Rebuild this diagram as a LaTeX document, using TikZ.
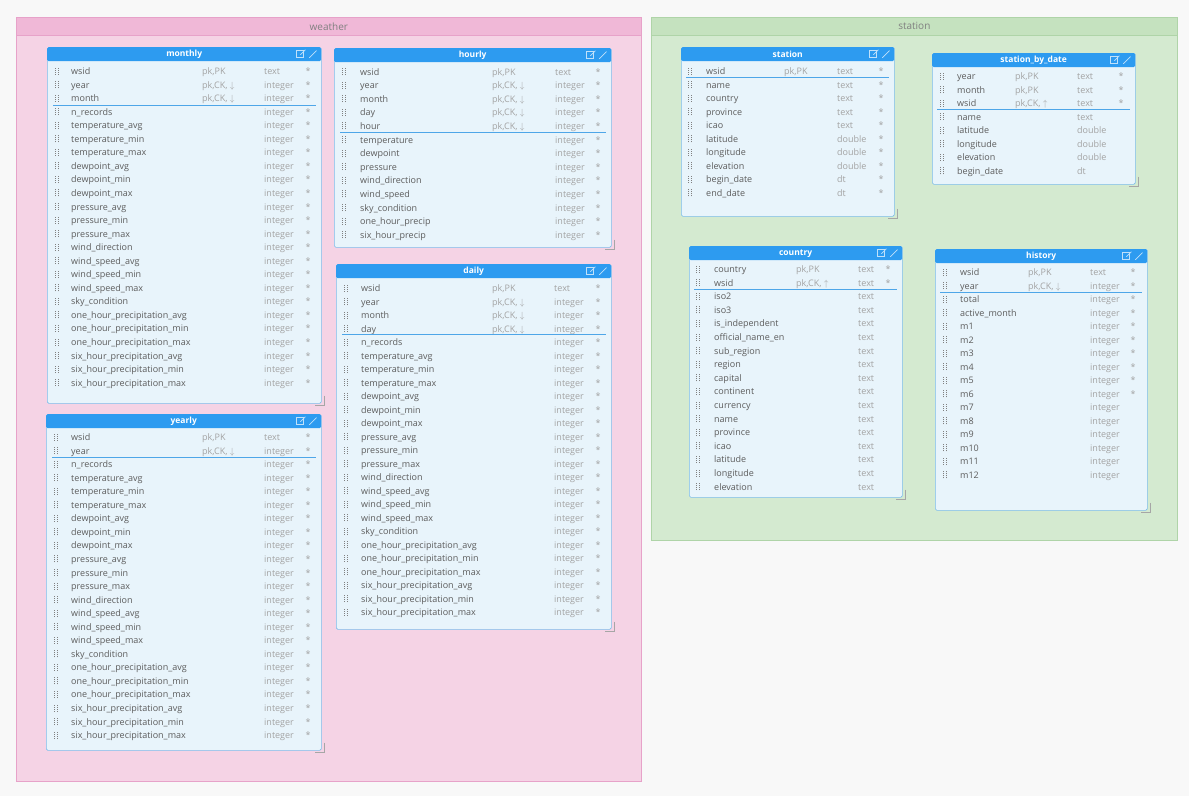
\documentclass[tikz,border=0pt]{standalone}
\usepackage{fontspec}
\setmainfont{Open Sans}
\usetikzlibrary{positioning}

\definecolor{canvasbg}{HTML}{F8F8F8}
\definecolor{wbody}{HTML}{F5D3E5}
\definecolor{whead}{HTML}{F0B8D7}
\definecolor{wline}{HTML}{E7A2C9}
\definecolor{sbody}{HTML}{D4EAD0}
\definecolor{shead}{HTML}{C5E2BF}
\definecolor{sline}{HTML}{AFD4A8}
\definecolor{tblue}{HTML}{2D9BF0}
\definecolor{tbody}{HTML}{E8F4FB}
\definecolor{tline}{HTML}{7DBDEB}
\definecolor{sepblue}{HTML}{4EA6E8}
\definecolor{txtdark}{HTML}{5C5C5C}
\definecolor{txtlight}{HTML}{A3A3A3}

\begin{document}
\begin{tikzpicture}
	[   x=1pt,y=-1pt,
	    grp/.style={draw=#1,line width=0.7pt,inner sep=0pt,anchor=north west},
	    tbl/.style={draw=tline,fill=tbody,line width=0.7pt,rounded corners=1.5pt,inner sep=0pt,anchor=north west},
	    thead/.style={fill=tblue,text=white,font=\fontsize{8.5}{9}\selectfont\bfseries,minimum height=14pt,inner sep=0pt,rounded corners=1.5pt,anchor=north west},
	]
	\tikzset{gripdots/.style={draw=black!50,line width=1.1pt,dash pattern=on 1pt off 1pt}}
	\tikzset{fname/.style={text=txtdark,font=\fontsize{9}{10}\selectfont,inner sep=0pt,text height=8pt,text depth=1pt,anchor=west}}
	\tikzset{fkey/.style={text=txtlight,font=\fontsize{9}{10}\selectfont,inner sep=0pt,text height=8pt,text depth=1pt,anchor=west}}
	\tikzset{fstar/.style={text=txtlight,font=\fontsize{9}{10}\selectfont,inner sep=0pt,text height=8pt,text depth=1pt,anchor=center}}
	\tikzset{sepline/.style={draw=sepblue,line width=0.8pt}}
	\tikzset{hicon/.style={draw=white!70!tblue,line width=0.6pt}}
	\tikzset{resize/.style={draw=black!35,line width=0.9pt}}
	\tikzset{gtitle/.style={text=black!50,font=\fontsize{10}{11}\selectfont}}
	
	\fill[canvasbg] (0,0) rectangle (1189,796);
	\useasboundingbox (0,0) rectangle (1189,796);
	
	% groups
	\node[grp=wline,fill=wbody,minimum width=625pt,minimum height=764pt] (weather) at (16,17) {};
	\node[grp=wline,fill=whead,minimum width=625pt,minimum height=18pt] (weather-head) at (16,17) {};
	\node[gtitle] (weather-title) at (weather-head.center) {weather};
	
	\node[grp=sline,fill=sbody,minimum width=526pt,minimum height=523pt] (stgroup) at (651,17) {};
	\node[grp=sline,fill=shead,minimum width=526pt,minimum height=18pt] (stgroup-head) at (651,17) {};
	\node[gtitle] (stgroup-title) at (stgroup-head.center) {station};
	
	% monthly
	\node[tbl,minimum width=274pt,minimum height=356pt] (monthly) at (47,47) {};
	\node[thead,minimum width=274pt] (monthly-head) at (47,47) {monthly};
	\foreach \nm/\ky/\ty/\st [count=\i] in {wsid/{pk,PK}/text/*,year/{pk,CK, $\downarrow$}/integer/*,month/{pk,CK, $\downarrow$}/integer/*,
		n\_records//integer/*,temperature\_avg//integer/*,temperature\_min//integer/*,temperature\_max//integer/*,
		dewpoint\_avg//integer/*,dewpoint\_min//integer/*,dewpoint\_max//integer/*,
		pressure\_avg//integer/*,pressure\_min//integer/*,pressure\_max//integer/*,wind\_direction//integer/*,
		wind\_speed\_avg//integer/*,wind\_speed\_min//integer/*,wind\_speed\_max//integer/*,sky\_condition//integer/*,
		one\_hour\_precipitation\_avg//integer/*,one\_hour\_precipitation\_min//integer/*,one\_hour\_precipitation\_max//integer/*,
		six\_hour\_precipitation\_avg//integer/*,six\_hour\_precipitation\_min//integer/*,six\_hour\_precipitation\_max//integer/*}
	{
		\pgfmathsetmacro\ry{71+(\i-1)*13.55}
		\draw[gripdots] (55.8,\ry+3.5) -- ++(0,7pt) (58.3,\ry+3.5) -- ++(0,7pt);
		\node[fname] (monthly-n\i) at (71,\ry) {\nm};
		\node[fkey] (monthly-k\i) at (202,\ry) {\ky};
		\node[fkey] (monthly-t\i) at (264,\ry) {\ty};
		\node[fstar] (monthly-s\i) at (308,\ry) {\st};
	}
	\draw[sepline] (53,105) -- (316,105);
	
	% hourly
	\node[tbl,minimum width=277pt,minimum height=199pt] (hourly) at (334,48) {};
	\node[thead,minimum width=277pt] (hourly-head) at (334,48) {hourly};
	\foreach \nm/\ky/\ty/\st [count=\i] in {wsid/{pk,PK}/text/*,year/{pk,CK, $\downarrow$}/integer/*,month/{pk,CK, $\downarrow$}/integer/*,
		day/{pk,CK, $\downarrow$}/integer/*,hour/{pk,CK, $\downarrow$}/integer/*,
		temperature//integer/*,dewpoint//integer/*,pressure//integer/*,wind\_direction//integer/*,wind\_speed//integer/*,
		sky\_condition//integer/*,one\_hour\_precip//integer/*,six\_hour\_precip//integer/*}
	{
		\pgfmathsetmacro\ry{71.5+(\i-1)*13.6}
		\draw[gripdots] (342.8,\ry+3.5) -- ++(0,7pt) (345.3,\ry+3.5) -- ++(0,7pt);
		\node[fname] (hourly-n\i) at (360,\ry) {\nm};
		\node[fkey] (hourly-k\i) at (492,\ry) {\ky};
		\node[fkey] (hourly-t\i) at (555,\ry) {\ty};
		\node[fstar] (hourly-s\i) at (598,\ry) {\st};
	}
	\draw[sepline] (340,132.5) -- (606,132.5);
	
	% daily
	\node[tbl,minimum width=275pt,minimum height=365pt] (daily) at (336,264) {};
	\node[thead,minimum width=275pt] (daily-head) at (336,264) {daily};
	\foreach \nm/\ky/\ty/\st [count=\i] in {wsid/{pk,PK}/text/*,year/{pk,CK, $\downarrow$}/integer/*,month/{pk,CK, $\downarrow$}/integer/*,
		day/{pk,CK, $\downarrow$}/integer/*,
		n\_records//integer/*,temperature\_avg//integer/*,temperature\_min//integer/*,temperature\_max//integer/*,
		dewpoint\_avg//integer/*,dewpoint\_min//integer/*,dewpoint\_max//integer/*,
		pressure\_avg//integer/*,pressure\_min//integer/*,pressure\_max//integer/*,wind\_direction//integer/*,
		wind\_speed\_avg//integer/*,wind\_speed\_min//integer/*,wind\_speed\_max//integer/*,sky\_condition//integer/*,
		one\_hour\_precipitation\_avg//integer/*,one\_hour\_precipitation\_min//integer/*,one\_hour\_precipitation\_max//integer/*,
		six\_hour\_precipitation\_avg//integer/*,six\_hour\_precipitation\_min//integer/*,six\_hour\_precipitation\_max//integer/*}
	{
		\pgfmathsetmacro\ry{288+(\i-1)*13.5}
		\draw[gripdots] (344.8,\ry+3.5) -- ++(0,7pt) (347.3,\ry+3.5) -- ++(0,7pt);
		\node[fname] (daily-n\i) at (361,\ry) {\nm};
		\node[fkey] (daily-k\i) at (492,\ry) {\ky};
		\node[fkey] (daily-t\i) at (554,\ry) {\ty};
		\node[fstar] (daily-s\i) at (598,\ry) {\st};
	}
	\draw[sepline] (342,334.5) -- (606,334.5);
	
	% yearly
	\node[tbl,minimum width=275pt,minimum height=336pt] (yearly) at (46,414) {};
	\node[thead,minimum width=275pt] (yearly-head) at (46,414) {yearly};
	\foreach \nm/\ky/\ty/\st [count=\i] in {wsid/{pk,PK}/text/*,year/{pk,CK, $\downarrow$}/integer/*,
		n\_records//integer/*,temperature\_avg//integer/*,temperature\_min//integer/*,temperature\_max//integer/*,
		dewpoint\_avg//integer/*,dewpoint\_min//integer/*,dewpoint\_max//integer/*,
		pressure\_avg//integer/*,pressure\_min//integer/*,pressure\_max//integer/*,wind\_direction//integer/*,
		wind\_speed\_avg//integer/*,wind\_speed\_min//integer/*,wind\_speed\_max//integer/*,sky\_condition//integer/*,
		one\_hour\_precipitation\_avg//integer/*,one\_hour\_precipitation\_min//integer/*,one\_hour\_precipitation\_max//integer/*,
		six\_hour\_precipitation\_avg//integer/*,six\_hour\_precipitation\_min//integer/*,six\_hour\_precipitation\_max//integer/*}
	{
		\pgfmathsetmacro\ry{437+(\i-1)*13.55}
		\draw[gripdots] (54.8,\ry+3.5) -- ++(0,7pt) (57.3,\ry+3.5) -- ++(0,7pt);
		\node[fname] (yearly-n\i) at (71,\ry) {\nm};
		\node[fkey] (yearly-k\i) at (202,\ry) {\ky};
		\node[fkey] (yearly-t\i) at (264,\ry) {\ty};
		\node[fstar] (yearly-s\i) at (308,\ry) {\st};
	}
	\draw[sepline] (52,457.5) -- (316,457.5);
	
	% station
	\node[tbl,minimum width=213pt,minimum height=169pt] (station) at (681,47) {};
	\node[thead,minimum width=213pt] (station-head) at (681,47) {station};
	\foreach \nm/\ky/\ty/\st [count=\i] in {wsid/{pk,PK}/text/*,name//text/*,country//text/*,province//text/*,icao//text/*,
		latitude//double/*,longitude//double/*,elevation//double/*,begin\_date//dt/*,end\_date//dt/*}
	{
		\pgfmathsetmacro\ry{71+(\i-1)*13.55}
		\draw[gripdots] (688.8,\ry+3.5) -- ++(0,7pt) (691.3,\ry+3.5) -- ++(0,7pt);
		\node[fname] (station-n\i) at (706,\ry) {\nm};
		\node[fkey] (station-k\i) at (784,\ry) {\ky};
		\node[fkey] (station-t\i) at (837,\ry) {\ty};
		\node[fstar] (station-s\i) at (881,\ry) {\st};
	}
	\draw[sepline] (686,77.5) -- (889,77.5);
	
	% station_by_date
	\node[tbl,minimum width=203pt,minimum height=131pt] (bydate) at (932,53) {};
	\node[thead,minimum width=203pt] (bydate-head) at (932,53) {station\_by\_date};
	\foreach \nm/\ky/\ty/\st [count=\i] in {year/{pk,PK}/text/*,month/{pk,PK}/text/*,wsid/{pk,CK, $\uparrow$}/text/*,
		name//text/{},latitude//double/{},longitude//double/{},elevation//double/{},begin\_date//dt/{}}
	{
		\pgfmathsetmacro\ry{76+(\i-1)*13.57}
		\draw[gripdots] (940.8,\ry+3.5) -- ++(0,7pt) (943.3,\ry+3.5) -- ++(0,7pt);
		\node[fname] (bydate-n\i) at (957,\ry) {\nm};
		\node[fkey] (bydate-k\i) at (1015,\ry) {\ky};
		\node[fkey] (bydate-t\i) at (1077,\ry) {\ty};
		\node[fstar] (bydate-s\i) at (1121,\ry) {\st};
	}
	\draw[sepline] (937,109.5) -- (1130,109.5);
	
	% country
	\node[tbl,minimum width=213pt,minimum height=251pt] (country) at (689,246) {};
	\node[thead,minimum width=213pt] (country-head) at (689,246) {country};
	\foreach \nm/\ky/\ty/\st [count=\i] in {country/{pk,PK}/text/*,wsid/{pk,CK, $\uparrow$}/text/*,
		iso2//text/{},iso3//text/{},is\_independent//text/{},official\_name\_en//text/{},sub\_region//text/{},region//text/{},
		capital//text/{},continent//text/{},currency//text/{},name//text/{},province//text/{},icao//text/{},
		latitude//text/{},longitude//text/{},elevation//text/{}}
	{
		\pgfmathsetmacro\ry{269+(\i-1)*13.6}
		\draw[gripdots] (696.8,\ry+3.5) -- ++(0,7pt) (699.3,\ry+3.5) -- ++(0,7pt);
		\node[fname] (country-n\i) at (714,\ry) {\nm};
		\node[fkey] (country-k\i) at (796,\ry) {\ky};
		\node[fkey] (country-t\i) at (858,\ry) {\ty};
		\node[fstar] (country-s\i) at (888,\ry) {\st};
	}
	\draw[sepline] (694,289.5) -- (897,289.5);
	
	% history
	\node[tbl,minimum width=212pt,minimum height=261pt] (history) at (935,249) {};
	\node[thead,minimum width=212pt] (history-head) at (935,249) {history};
	\foreach \nm/\ky/\ty/\st [count=\i] in {wsid/{pk,PK}/text/*,year/{pk,CK, $\downarrow$}/integer/*,
		total//integer/*,active\_month//integer/*,m1//integer/*,m2//integer/*,m3//integer/*,m4//integer/*,m5//integer/*,m6//integer/*,
		m7//integer/{},m8//integer/{},m9//integer/{},m10//integer/{},m11//integer/{},m12//integer/{}}
	{
		\pgfmathsetmacro\ry{272+(\i-1)*13.53}
		\draw[gripdots] (943.8,\ry+3.5) -- ++(0,7pt) (946.3,\ry+3.5) -- ++(0,7pt);
		\node[fname] (history-n\i) at (960,\ry) {\nm};
		\node[fkey] (history-k\i) at (1028,\ry) {\ky};
		\node[fkey] (history-t\i) at (1090,\ry) {\ty};
		\node[fstar] (history-s\i) at (1133,\ry) {\st};
	}
	\draw[sepline] (940,292.5) -- (1142,292.5);
	
	% header icons and resize handles
	\foreach \tb in {monthly,hourly,daily,yearly,station,bydate,country,history}
	{
		\draw[hicon] ([xshift=-25pt,yshift=-3.5pt]\tb-head.east) rectangle ++(7pt,7pt);
		\draw[hicon] ([xshift=-21pt,yshift=-0.5pt]\tb-head.east) -- ++(5pt,5pt);
		\draw[hicon,line cap=round] ([xshift=-12pt,yshift=-3.5pt]\tb-head.east) -- ++(7pt,7pt);
		\draw[resize] ([xshift=3pt,yshift=8pt]\tb.south east) -- ++(0,-10pt) -- ++(-10pt,0);
	}
\end{tikzpicture}
\end{document}
